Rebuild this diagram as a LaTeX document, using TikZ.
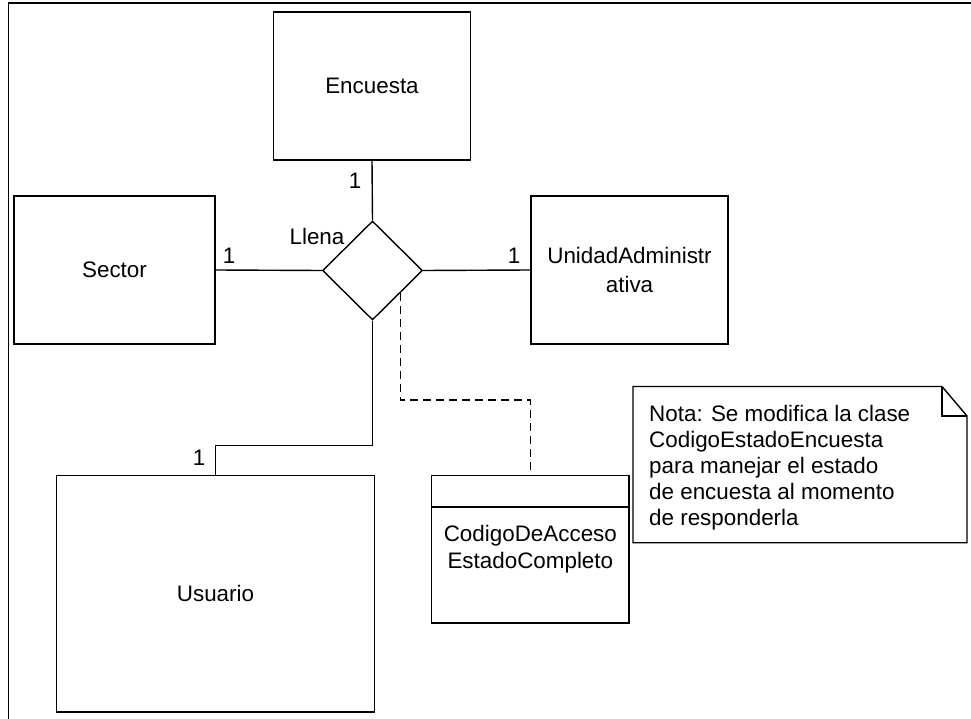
\documentclass[tikz,border=0pt]{standalone}
\usepackage{fontspec}
\setmainfont{Liberation Sans}
\usetikzlibrary{shapes.geometric,calc}
\begin{document}
\begin{tikzpicture}[x=1pt,y=-1pt,
  every node/.style={font=\fontsize{22.4}{26}\selectfont},
  box/.style={draw=black,line width=1.4pt,rectangle,inner sep=0pt},
  conn/.style={draw=black,line width=1.4pt},
  dconn/.style={draw=black,line width=1.4pt,dash pattern=on 8pt off 5pt},
  mult/.style={anchor=base,inner sep=0pt}]
\useasboundingbox (0,0) rectangle (971,719);
\draw[line width=1.8pt] (8.5,719) -- (8.5,2.7) -- (971,2.7);

\node[box,minimum width=197pt,minimum height=148pt] (enc) at (372,86) {Encuesta};
\node[box,minimum width=201pt,minimum height=148pt] (sec) at (114.5,270) {Sector};
\node[box,minimum width=197pt,minimum height=148pt,align=center,
  font=\fontsize{22.4}{29}\selectfont] (uni) at (629.5,270) {UnidadAdministr\\ativa};
\node[box,minimum width=318.5pt,minimum height=236.3pt] (usu) at (215.5,593.85) {Usuario};
\node[box,minimum width=197.3pt,minimum height=147.3pt,align=center,
  font=\fontsize{22.4}{27.3}\selectfont] (cls) at (530.35,549.35) {CodigoDeAcceso\\EstadoCompleto};
\draw[line width=1.4pt] (cls.north west |- 0,507) -- (cls.north east |- 0,507);

\node[diamond,draw=black,line width=1.4pt,minimum width=100pt,minimum height=99pt,inner sep=0pt] (d) at (372.5,270.5) {};
\node[anchor=base,inner sep=0pt] (llena) at (317,245) {Llena};

\draw[conn] (d.north) -- (enc.south);
\draw[conn] (d.west) -- (sec.east);
\draw[conn] (d.east) -- (uni.west);
\coordinate (k) at (372.5,445.7);
\draw[conn] (d.south) -- (k) -| (usu.north);

\coordinate (ds) at ($(d.east)!0.446!(d.south)$);
\coordinate (m1) at (ds |- 0,400);
\coordinate (m2) at (cls.north |- 0,400);
\draw[dconn] (ds) -- (m1) -- (m2) -- (cls.north);

\node[mult] (m-enc) at (355,189) {1};
\node[mult] (m-sec) at (229,263) {1};
\node[mult] (m-uni) at (514,263) {1};
\node[mult] (m-usu) at (199,465) {1};

\draw[line width=1.4pt] (633,386.5) -- (942,386.5) -- (967,416) -- (967,542.7) -- (633,542.7) -- cycle;
\draw[line width=1.4pt] (942,386.5) -- (942,416) -- (967,416);
\node[anchor=north west,inner sep=0pt,align=left,
  font=\fontsize{22.4}{26}\selectfont] (note) at (649,404.7)
  {Nota: Se modifica la clase\\CodigoEstadoEncuesta\\para manejar el estado\\de encuesta al momento\\de responderla};
\end{tikzpicture}
\end{document}
